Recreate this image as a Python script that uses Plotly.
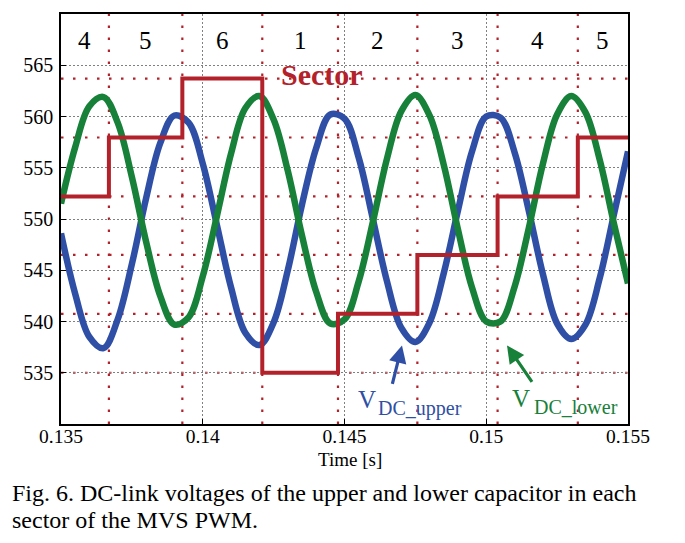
import plotly.graph_objects as go

# ---------------- data ----------------
time_s = [0.1350, 0.1355, 0.1360, 0.1365, 0.1370, 0.1375, 0.1380, 0.1385, 0.1390, 0.1395,
          0.1400, 0.1405, 0.1410, 0.1415, 0.1420, 0.1425, 0.1430, 0.1435, 0.1440, 0.1445,
          0.1450, 0.1455, 0.1460, 0.1465, 0.1470, 0.1475, 0.1480, 0.1485, 0.1490, 0.1495,
          0.1500, 0.1505, 0.1510, 0.1515, 0.1520, 0.1525, 0.1530, 0.1535, 0.1540, 0.1545,
          0.1550]
v_dc_upper = [548.6, 542.7, 538.5, 537.4, 540.2, 545.6, 552.0, 557.4, 560.1, 559.4,
              555.4, 549.4, 543.3, 538.9, 537.7, 539.9, 545.0, 551.4, 556.9, 560.2,
              559.8, 556.0, 550.0, 543.9, 539.4, 538.0, 539.9, 544.7, 550.8, 556.6,
              560.0, 559.9, 556.5, 550.8, 544.6, 539.8, 538.3, 539.7, 544.2, 550.4,
              556.6]
v_dc_lower = [551.5, 557.0, 561.0, 561.9, 559.4, 554.1, 547.8, 542.5, 539.7, 540.4,
              544.4, 550.3, 556.4, 560.8, 562.0, 559.7, 554.7, 548.4, 542.9, 539.8,
              540.2, 543.9, 549.7, 555.9, 560.5, 562.1, 560.1, 555.3, 549.0, 543.3,
              540.0, 540.0, 543.4, 549.1, 555.4, 560.2, 562.0, 560.4, 555.8, 549.6,
              543.7]

# sector sequence and boundaries
sectors = [4, 5, 6, 1, 2, 3, 4, 5]
sector_edges = [0.135, 0.13669, 0.13928, 0.14210, 0.14477, 0.14757, 0.15040, 0.15323, 0.155]
sector_levels = [535.0, 540.75, 546.5, 552.2, 557.95, 563.7]   # level for sector 1..6

x_ticks = [0.135, 0.14, 0.145, 0.15, 0.155]
x_tick_labels = ["0.135", "0.14", "0.145", "0.15", "0.155"]
y_ticks = [535, 540, 545, 550, 555, 560, 565]
y_tick_labels = ["535", "540", "545", "550", "555", "560", "565"]

# ---------------- styling ----------------
FONT = "Liberation Serif, Times New Roman, serif"
BLUE = "#2E4FA5"
GREEN = "#178039"
RED = "#B3222B"

OFF = 8  # page body margin in the browser
W, H = 685 - 2 * OFF, 543 - 2 * OFF
# reference plot area in window pixels: x 61..628, y 12..424
L, T = 61 - OFF, 12 - OFF
R = W - (628 - OFF)
B = H - (424 - OFF)
PW, PH = W - L - R, H - T - B


def px_x(px):
    return (px - OFF - L) / PW


def px_y(py):
    return (H - B - (py - OFF)) / PH


fig = go.Figure()

# red dotted sector grid
shapes = []
for xe in sector_edges[1:-1]:
    shapes.append(dict(type="line", xref="x", yref="paper", x0=xe, x1=xe, y0=0, y1=1,
                       line=dict(color=RED, width=2.2, dash="2.5px,9.5px"), layer="below"))
for lv in sector_levels:
    shapes.append(dict(type="line", xref="paper", yref="y", x0=0, x1=1, y0=lv, y1=lv,
                       line=dict(color=RED, width=2.2, dash="2.5px,9.5px"), layer="below"))

fig.add_trace(go.Scatter(x=time_s, y=v_dc_upper, mode="lines", line_shape="spline",
                         line=dict(color=BLUE, width=6.5), showlegend=False, hoverinfo="skip"))
fig.add_trace(go.Scatter(x=time_s, y=v_dc_lower, mode="lines", line_shape="spline",
                         line=dict(color=GREEN, width=6.5), showlegend=False, hoverinfo="skip"))

step_y = [sector_levels[s - 1] for s in sectors] + [sector_levels[sectors[-1] - 1]]
fig.add_trace(go.Scatter(x=sector_edges, y=step_y, mode="lines", line_shape="hv",
                         line=dict(color=RED, width=4), showlegend=False, hoverinfo="skip"))

annotations = []
# sector numbers
for i, s in enumerate(sectors):
    xm = (sector_edges[i] + sector_edges[i + 1]) / 2
    annotations.append(dict(x=xm, xref="x", y=px_y(39), yref="paper", text=str(s),
                            showarrow=False, font=dict(family=FONT, size=25, color="black"),
                            xanchor="center", yanchor="middle"))

annotations.append(dict(x=px_x(322), xref="paper", y=px_y(73), yref="paper", text="<b>Sector</b>",
                        showarrow=False, font=dict(family=FONT, size=30, color=RED),
                        xanchor="center", yanchor="middle"))

# arrows
annotations.append(dict(x=0.147028, y=537.67, xref="x", yref="y", text="", showarrow=True,
                        ax=-10, ay=40, arrowhead=2, arrowsize=1.1, arrowwidth=3.2, arrowcolor=BLUE,
                        standoff=0))
annotations.append(dict(x=0.150732, y=537.67, xref="x", yref="y", text="", showarrow=True,
                        ax=26, ay=38, arrowhead=2, arrowsize=1.1, arrowwidth=3.2, arrowcolor=GREEN,
                        standoff=0))

# V_DC labels
annotations.append(dict(x=px_x(356), y=px_y(399), xref="paper", yref="paper", text="V",
                        showarrow=False, font=dict(family=FONT, size=25, color=BLUE),
                        xanchor="left", yanchor="middle"))
annotations.append(dict(x=px_x(376), y=px_y(408), xref="paper", yref="paper", text="DC_upper",
                        showarrow=False, font=dict(family=FONT, size=20, color=BLUE),
                        xanchor="left", yanchor="middle"))
annotations.append(dict(x=px_x(510), y=px_y(398), xref="paper", yref="paper", text="V",
                        showarrow=False, font=dict(family=FONT, size=25, color=GREEN),
                        xanchor="left", yanchor="middle"))
annotations.append(dict(x=px_x(532), y=px_y(407), xref="paper", yref="paper", text="DC_lower",
                        showarrow=False, font=dict(family=FONT, size=20, color=GREEN),
                        xanchor="left", yanchor="middle"))

# axis title
annotations.append(dict(x=px_x(350), y=px_y(460), xref="paper", yref="paper", text="Time [s]",
                        showarrow=False, font=dict(family=FONT, size=19, color="black"),
                        xanchor="center", yanchor="middle"))

# caption
annotations.append(dict(x=px_x(10), y=px_y(493), xref="paper", yref="paper",
                        text="Fig. 6. DC-link voltages of the upper and lower capacitor in each",
                        showarrow=False, font=dict(family=FONT, size=24, color="black"),
                        xanchor="left", yanchor="middle"))
annotations.append(dict(x=px_x(10), y=px_y(520), xref="paper", yref="paper",
                        text="sector of the MVS PWM.",
                        showarrow=False, font=dict(family=FONT, size=24, color="black"),
                        xanchor="left", yanchor="middle"))

fig.update_layout(
    width=W, height=H, autosize=False,
    margin=dict(l=L, r=R, t=T, b=B, pad=0),
    paper_bgcolor="white", plot_bgcolor="white",
    shapes=shapes, annotations=annotations,
    font=dict(family=FONT, color="black"),
)
fig.update_xaxes(range=[0.135, 0.155], tickvals=x_ticks, ticktext=x_tick_labels,
                 showline=True, mirror=True, linecolor="black", linewidth=1.5,
                 ticks="inside", ticklen=5, tickcolor="black", tickwidth=1,
                 ticklabelstandoff=-6,
                 showgrid=True, gridcolor="#808080", gridwidth=1, griddash="2px,2px",
                 zeroline=False, tickfont=dict(family=FONT, size=19.5, color="black"))
fig.update_yaxes(range=[530, 570], tickvals=y_ticks, ticktext=y_tick_labels,
                 showline=True, mirror=True, linecolor="black", linewidth=1.5,
                 ticks="inside", ticklen=5, tickcolor="black", tickwidth=1,
                 ticklabelstandoff=2,
                 showgrid=True, gridcolor="#808080", gridwidth=1, griddash="2px,2px",
                 zeroline=False, tickfont=dict(family=FONT, size=20, color="black"))

fig.write_html("out.html")
